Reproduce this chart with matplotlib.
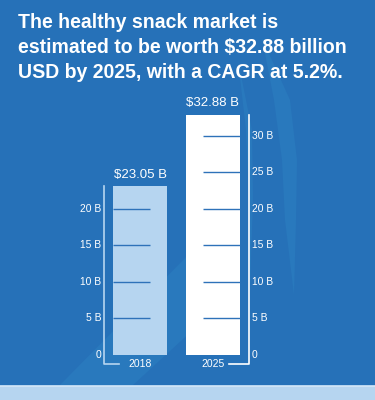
import matplotlib
matplotlib.use("Agg")
import matplotlib.pyplot as plt
from matplotlib.patches import Rectangle, Polygon

plt.rcParams['font.family'] = ['Liberation Sans', 'DejaVu Sans']

# ---- data ----
years = ['2018', '2025']
values = [23.05, 32.88]
left_ticks = [0, 5, 10, 15, 20]
right_ticks = [0, 5, 10, 15, 20, 25, 30]
title_lines = ["The healthy snack market is",
               "estimated to be worth $32.88 billion",
               "USD by 2025, with a CAGR at 5.2%."]

BG = '#2671b8'
LIGHT = '#b6d5f0'
GRID = '#2e72b9'
SWOOSH = '#2979bd'

W, H = 375, 400
fig = plt.figure(figsize=(W / 100, H / 100), dpi=100)
fig.patch.set_facecolor(BG)

# decoration layer in pixel coordinates
bg = fig.add_axes([0, 0, 1, 1])
bg.set_xlim(0, W)
bg.set_ylim(H, 0)
bg.axis('off')
bg.add_patch(Polygon([(262, 38), (274, 100), (282, 160), (285, 220), (294, 295),
                      (296, 220), (297, 160), (290, 100)],
                     closed=True, color=SWOOSH, lw=0))
bg.add_patch(Polygon([(238, 60), (246, 130), (249, 200), (250, 290),
                      (253, 200), (252, 130)],
                     closed=True, color=SWOOSH, lw=0))
bg.add_patch(Polygon([(60, 385), (195, 248), (195, 328), (133, 385)],
                     closed=True, color=SWOOSH, lw=0))
bg.add_patch(Rectangle((0, 385), W, 15, color=LIGHT, lw=0))
bg.plot([0, W], [385.5, 385.5], color='#cfe3f5', lw=0.8)

# chart layer: value 0 at pixel 354.6 from top, 7.3 px per unit; category spacing 73 px
ppu = 7.3
y0 = 354.6
ax = fig.add_axes([0, 0, 1, 1])
ax.set_facecolor('none')
ax.set_ylim(-(H - y0) / ppu, y0 / ppu)
ax.set_xlim(-140 / 73, (W - 140) / 73)
ax.axis('off')

x = [0, 1]
ax.bar(x, values, width=0.74, color=[LIGHT, 'white'], zorder=2)

for xi, v in zip(x, values):
    ax.text(xi, v + 0.75, f'${v:.2f} B', ha='center', va='bottom',
            color='white', fontsize=9.5, zorder=4)

# inner gridlines
for t in left_ticks[1:]:
    ax.hlines(t, -0.37, 0.137, color=GRID, lw=1, zorder=3)
for t in right_ticks[1:]:
    ax.hlines(t, 1 - 0.137, 1 + 0.37, color=GRID, lw=1, zorder=3)

# tick labels
for t in left_ticks:
    ax.text(-0.534, t, f'{t} B' if t else '0', ha='right', va='center',
            color='white', fontsize=7.4)
for t in right_ticks:
    ax.text(1.534, t, f'{t} B' if t else '0', ha='left', va='center',
            color='white', fontsize=7.4)

# axis L-shapes
yb = -1.27
ax.plot([-0.493, -0.493, -0.29], [values[0], yb, yb], color=LIGHT, lw=1.2)
ax.plot([1.493, 1.493, 1.22], [values[1], yb, yb], color='white', lw=1.2)

for xi, yr in zip(x, years):
    ax.text(xi, yb, yr, ha='center', va='center', color='white', fontsize=7.5)

# title
for i, line in enumerate(title_lines):
    fig.text(18 / W, 1 - (28 + 25 * i) / H, line, ha='left', va='baseline',
             color='white', fontsize=14.05, fontweight='bold')

fig.savefig('out.png', dpi=100, facecolor=BG)
